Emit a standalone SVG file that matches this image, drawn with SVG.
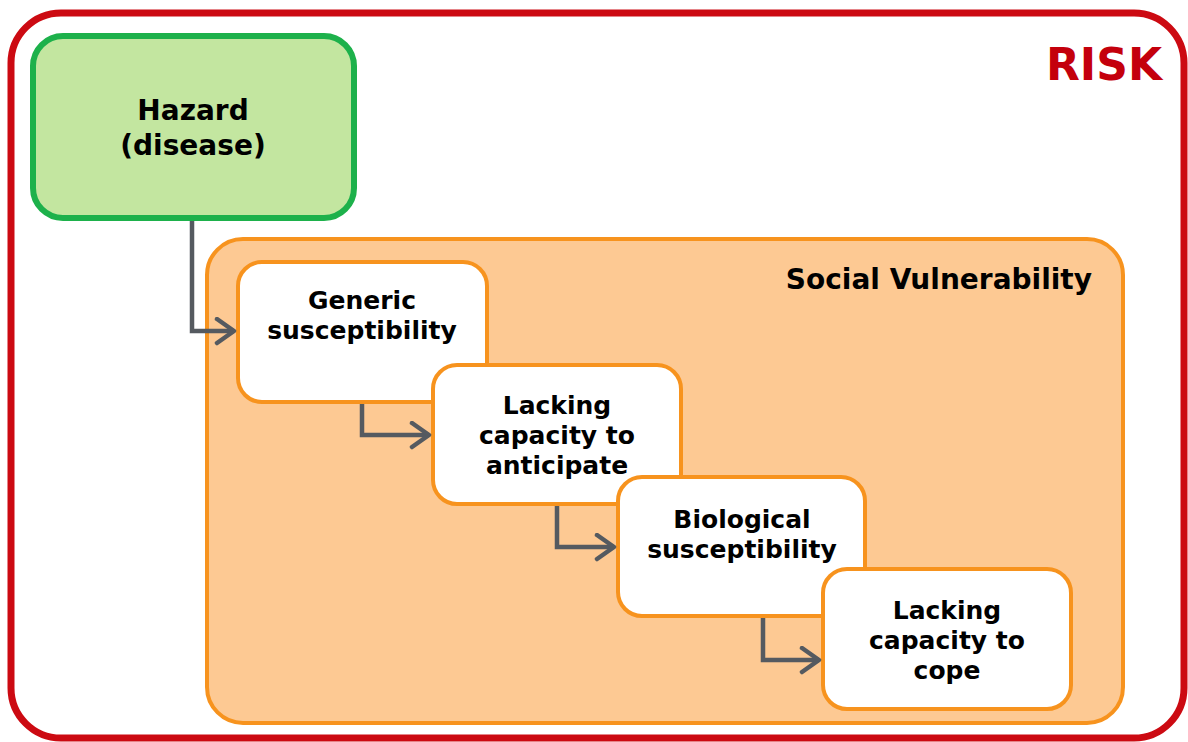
<svg xmlns="http://www.w3.org/2000/svg" width="1188" height="742" viewBox="0 0 1188 742">
<defs>
<style>
.t{font-family:"DejaVu Sans","Liberation Sans",sans-serif;font-weight:bold;fill:#000;text-anchor:middle}
.node{fill:#fff;stroke:#f7931e;stroke-width:4}
.conn{fill:none;stroke:#555a60;stroke-width:4.5}
</style>
<marker id="arr" markerUnits="userSpaceOnUse" markerWidth="30" markerHeight="30" refX="21" refY="14" orient="auto">
<path d="M4,2 L21,14 L4,26" fill="none" stroke="#555a60" stroke-width="4.5" stroke-linecap="round" stroke-linejoin="round"/>
</marker>
</defs>
<rect width="1188" height="742" fill="#fff"/>
<g id="risk">
<rect x="11" y="13" width="1173" height="725" rx="50" fill="#fff" stroke="#cc0a12" stroke-width="7"/>
<text x="1162" y="80" font-family="DejaVu Sans, Liberation Sans, sans-serif" font-weight="bold" font-size="44" fill="#c4000c" text-anchor="end">RISK</text>
</g>
<g id="hazard">
<rect x="33" y="36" width="321" height="182" rx="30" fill="#c3e6a0" stroke="#1db14b" stroke-width="6"/>
<text class="t" x="193" y="120" font-size="28">Hazard</text>
<text class="t" x="193" y="155" font-size="28">(disease)</text>
</g>
<g id="social-vulnerability">
<rect x="207" y="239" width="916" height="484" rx="36" fill="#fdc993" stroke="#f7931e" stroke-width="4"/>
<text class="t" x="1092" y="289" font-size="28" style="text-anchor:end">Social Vulnerability</text>
</g>
<g id="generic-susceptibility">
<rect class="node" x="238" y="262" width="249" height="140" rx="24"/>
<text class="t" x="362" y="309" font-size="25">Generic</text>
<text class="t" x="362" y="339" font-size="25">susceptibility</text>
</g>
<g id="lacking-anticipate">
<rect class="node" x="433" y="365" width="248" height="139" rx="24"/>
<text class="t" x="557" y="414" font-size="25">Lacking</text>
<text class="t" x="557" y="444" font-size="25">capacity to</text>
<text class="t" x="557" y="474" font-size="25">anticipate</text>
</g>
<g id="biological-susceptibility">
<rect class="node" x="618" y="477" width="247" height="139" rx="24"/>
<text class="t" x="742" y="528" font-size="25">Biological</text>
<text class="t" x="742" y="558" font-size="25">susceptibility</text>
</g>
<g id="lacking-cope">
<rect class="node" x="823" y="569" width="248" height="140" rx="24"/>
<text class="t" x="947" y="619" font-size="25">Lacking</text>
<text class="t" x="947" y="649" font-size="25">capacity to</text>
<text class="t" x="947" y="679" font-size="25">cope</text>
</g>
<g id="connectors">
<path class="conn" d="M192,221 V331 H234" marker-end="url(#arr)"/>
<path class="conn" d="M362,404 V435 H429" marker-end="url(#arr)"/>
<path class="conn" d="M557,506 V547 H614" marker-end="url(#arr)"/>
<path class="conn" d="M763,618 V660 H819" marker-end="url(#arr)"/>
</g>
</svg>
